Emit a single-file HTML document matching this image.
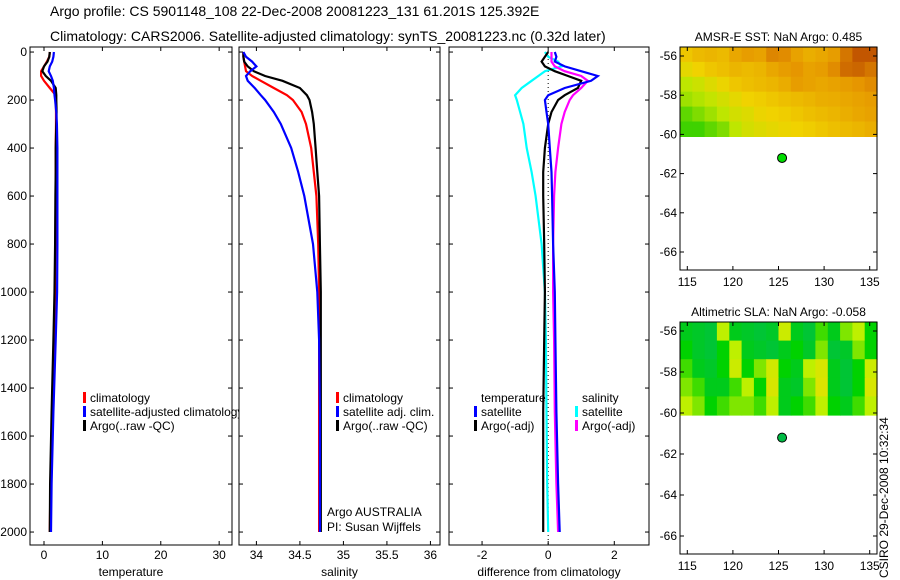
<!DOCTYPE html>
<html><head><meta charset="utf-8"><style>
body{margin:0;background:#fff;}
svg{display:block;font-family:"Liberation Sans",sans-serif;}
</style></head><body>
<svg id="fig" width="900" height="580" xmlns="http://www.w3.org/2000/svg">
<text x="50" y="16" font-size="14">Argo profile: CS 5901148_108 22-Dec-2008 20081223_131 61.201S 125.392E</text>
<text x="50" y="41" font-size="14">Climatology: CARS2006. Satellite-adjusted climatology: synTS_20081223.nc (0.32d later)</text>
<g id="g"></g>
<text transform="translate(888,578) rotate(-90)" font-size="12">CSIRO 29-Dec-2008 10:32:34</text>
</svg>
<script>
// ---- data ----
const depthLevels=[0,20,40,60,80,100,120,150,180,200,250,300,400,500,600,800,1000,1200,1500,1800,2000];
const tempClim=[1.0,0.9,0.5,0.0,-0.5,-0.5,0.0,1.0,2.0,2.0,2.05,2.05,2.0,2.0,2.0,1.95,1.9,1.7,1.4,1.1,1.0];
const tempSat=[1.7,1.6,1.4,1.0,0.8,1.2,1.5,1.7,1.8,1.9,2.1,2.2,2.3,2.3,2.3,2.3,2.25,2.0,1.6,1.3,1.2];
const tempArgo=[1.0,0.9,0.6,0.0,-0.3,0.3,1.2,2.0,2.1,2.1,2.15,2.1,2.0,2.0,1.95,1.9,1.8,1.6,1.3,1.05,1.0];
const salClim=[33.85,33.85,33.86,33.87,33.88,33.95,34.05,34.2,34.35,34.42,34.52,34.57,34.63,34.66,34.69,34.71,34.72,34.72,34.72,34.72,34.72];
const salSat=[33.85,33.88,33.95,34.0,33.93,33.88,33.9,33.98,34.05,34.1,34.2,34.28,34.4,34.48,34.55,34.65,34.7,34.72,34.73,34.73,34.73];
const salArgo=[33.85,33.85,33.86,33.9,33.97,34.1,34.3,34.5,34.58,34.61,34.64,34.66,34.68,34.7,34.72,34.73,34.74,34.74,34.74,34.74,34.74];
const dTempSat=[0.2,0.25,0.2,0.5,1.0,1.5,1.3,0.5,0.0,-0.1,-0.05,0.0,0.05,0.1,0.12,0.15,0.2,0.22,0.25,0.3,0.35];
const dTempArgo=[0.0,-0.1,-0.2,-0.1,0.2,0.6,1.0,0.9,0.5,0.3,0.1,0.0,-0.1,-0.15,-0.15,-0.12,-0.1,-0.12,-0.15,-0.15,-0.15];
const dSalSat=[-0.1,0.0,0.3,0.4,-0.1,-0.3,-0.5,-0.8,-1.0,-0.95,-0.85,-0.75,-0.65,-0.5,-0.38,-0.2,-0.1,-0.07,-0.05,-0.03,0.0];
const dSalArgo=[0.1,0.1,0.1,0.2,0.5,1.0,1.2,1.0,0.75,0.65,0.5,0.4,0.3,0.22,0.18,0.15,0.15,0.18,0.2,0.25,0.3];
const depthTicks=[0,200,400,600,800,1000,1200,1400,1600,1800,2000];
const tempTicks=[0,10,20,30];
const salTicks=[34,34.5,35,35.5,36];
const diffTicks=[-2,0,2];
const lonTicks=[115,120,125,130,135];
const latTicks=[-56,-58,-60,-62,-64,-66];
const sstGrid=[
[.55,.6,.62,.6,.68,.72,.7,.8,.78,.7,.65,.68,.72,.85,.95,.95],
[.45,.5,.55,.58,.62,.6,.62,.68,.72,.75,.7,.72,.78,.88,.9,.85],
[.3,.35,.42,.48,.55,.58,.6,.62,.66,.72,.7,.68,.7,.72,.75,.78],
[.25,.28,.32,.38,.45,.5,.52,.55,.58,.6,.62,.65,.66,.68,.7,.72],
[.15,.2,.25,.3,.38,.42,.48,.5,.52,.55,.58,.6,.62,.65,.68,.7],
[.1,.1,.15,.2,.3,.38,.42,.45,.48,.5,.52,.55,.58,.6,.62,.65]];
const slaGrid=[
[.2,.15,.1,.6,.2,.15,.1,.15,.7,.2,.1,.4,.2,.5,.6,.3],
[.3,.15,.1,.3,.6,.2,.15,.1,.2,.3,.15,.5,.1,.15,.5,.3],
[.4,.2,.15,.3,.7,.3,.5,.75,.3,.2,.6,.8,.2,.1,.3,.7],
[.5,.4,.2,.2,.4,.6,.3,.8,.2,.15,.5,.85,.2,.1,.3,.8],
[.6,.5,.3,.4,.5,.5,.4,.6,.2,.3,.4,.6,.3,.2,.4,.6]];
const argoLon=125.392, argoLat=-61.201;

const NS='http://www.w3.org/2000/svg';
const G=document.getElementById('g');
function mk(t,a,p){const e=document.createElementNS(NS,t);for(const k in a)e.setAttribute(k,a[k]);(p||G).appendChild(e);return e;}
function txt(x,y,s,anchor,size,p){const e=mk('text',{x:x,y:y,'font-size':size||12,'text-anchor':anchor||'start'},p);e.textContent=s;return e;}

const PT=47,PB=545,D0=-21,D1=2054;
const yD=d=>PT+(d-D0)/(D1-D0)*(PB-PT);

function profilePanel(name,x0,x1,v0,v1,ticks,label,showY){
  const g=mk('g',{});
  
  
  const xs=v=>x0+(v-v0)/(v1-v0)*(x1-x0);
  mk('rect',{x:x0,y:PT,width:x1-x0,height:PB-PT,fill:'#fff',stroke:'#000'},g);
  depthTicks.forEach(d=>{const y=yD(d);
    mk('line',{x1:x0,x2:x0+4,y1:y,y2:y,stroke:'#000'},g);
    mk('line',{x1:x1-4,x2:x1,y1:y,y2:y,stroke:'#000'},g);
    if(showY){const t=txt(x0-3,y+4,String(d),'end',12,g);}
  });
  ticks.forEach(v=>{const x=xs(v);
    mk('line',{x1:x,x2:x,y1:PB,y2:PB-4,stroke:'#000'},g);
    mk('line',{x1:x,x2:x,y1:PT,y2:PT+4,stroke:'#000'},g);
    const t=txt(x,559,String(v),'middle',12,g);
    
    
  });
  const xl=txt((x0+x1)/2,576,label,'middle',12,g);
  
  
  return {g,xs};
}
function drawLine(p,vals,color,name){
  const pts=vals.map((v,i)=>p.xs(v).toFixed(1)+','+yD(depthLevels[i]).toFixed(1)).join(' ');
  const l=mk('polyline',{points:pts,fill:'none',stroke:color,'stroke-width':2.2},p.g);
  
  
}
function legend(p,x,y,items){
  items.forEach((it,i)=>{
    const yy=y+i*14;
    if(it[1]) mk('rect',{x:x,y:yy-10,width:3,height:11,fill:it[1]},p.g);
    const t=txt(x+7,yy,it[0],'start',12,p.g);
    
    
  });
}

const p1=profilePanel('temperature-panel',30,232,-2.4,32.2,tempTicks,'temperature',true);
drawLine(p1,tempClim,'#f00','temp-climatology-line');
drawLine(p1,tempArgo,'#000','temp-argo-line');
drawLine(p1,tempSat,'#00f','temp-satellite-line');
legend(p1,83,402,[['climatology','#f00'],['satellite-adjusted climatology','#00f'],['Argo(..raw -QC)','#000']]);

const p2=profilePanel('salinity-panel',239,440,33.8,36.11,salTicks,'salinity',false);
drawLine(p2,salClim,'#f00','sal-climatology-line');
drawLine(p2,salArgo,'#000','sal-argo-line');
drawLine(p2,salSat,'#00f','sal-satellite-line');
legend(p2,336,402,[['climatology','#f00'],['satellite adj. clim.','#00f'],['Argo(..raw -QC)','#000']]);
txt(327,516,'Argo AUSTRALIA','start',12,p2.g);
txt(327,531,'PI: Susan Wijffels','start',12,p2.g);

const p3=profilePanel('difference-panel',449,649,-3.0,3.05,diffTicks,'difference from climatology',false);
mk('line',{x1:p3.xs(0),x2:p3.xs(0),y1:PT,y2:PB,stroke:'#000','stroke-dasharray':'1,3'},p3.g);
drawLine(p3,dSalSat,'#0ff','dsal-satellite-line');
drawLine(p3,dSalArgo,'#f0f','dsal-argo-line');
drawLine(p3,dTempArgo,'#000','dtemp-argo-line');
drawLine(p3,dTempSat,'#00f','dtemp-satellite-line');
legend(p3,474,402,[['temperature',null],['satellite','#00f'],['Argo(-adj)','#000']]);
legend(p3,575,402,[['salinity',null],['satellite','#0ff'],['Argo(-adj)','#f0f']]);

function sstColor(v){const st=[[0,[0,200,0]],[.3,[190,230,0]],[.5,[240,210,0]],[.75,[230,150,0]],[1,[185,70,0]]];
  for(let i=1;i<st.length;i++)if(v<=st[i][0]){const a=st[i-1],b=st[i],t=(v-a[0])/(b[0]-a[0]);return 'rgb('+a[1].map((c,k)=>Math.round(c+(b[1][k]-c)*t)).join(',')+')';}
  return 'rgb(185,70,0)';}
function slaColor(v){const st=[[0,[0,190,80]],[.3,[0,210,0]],[.6,[190,240,0]],[1,[240,220,0]]];
  for(let i=1;i<st.length;i++)if(v<=st[i][0]){const a=st[i-1],b=st[i],t=(v-a[0])/(b[0]-a[0]);return 'rgb('+a[1].map((c,k)=>Math.round(c+(b[1][k]-c)*t)).join(',')+')';}
  return 'rgb(240,220,0)';}

function mapPanel(name,top,bottom,title,grid,cfn,dotColor){
  const x0=680,x1=877,L0=114.2,L1=135.8;
  const yLat0=top+9, yLat1=bottom-18;
  const xs=v=>x0+(v-L0)/(L1-L0)*(x1-x0);
  const ys=v=>yLat0+(-56-v)/10*(yLat1-yLat0);
  const g=mk('g',{});
  
  
  const rows=grid.length, cols=grid[0].length;
  const hy0=top, hy1=ys(-60.1);
  grid.forEach((row,r)=>row.forEach((v,c)=>{
    const cell=mk('rect',{x:(x0+c*(x1-x0)/cols).toFixed(1),y:(hy0+r*(hy1-hy0)/rows).toFixed(1),width:((x1-x0)/cols+0.6).toFixed(1),height:((hy1-hy0)/rows+0.6).toFixed(1),fill:cfn(v)},g);
    
    
  }));
  mk('rect',{x:x0,y:top,width:x1-x0,height:bottom-top,fill:'none',stroke:'#000'},g);
  latTicks.forEach(v=>{const y=ys(v);
    mk('line',{x1:x0,x2:x0+4,y1:y,y2:y,stroke:'#000'},g);
    mk('line',{x1:x1-4,x2:x1,y1:y,y2:y,stroke:'#000'},g);
    const t=txt(x0-3,y+4,String(v),'end',12,g);
    
    
  });
  lonTicks.forEach(v=>{const x=xs(v);
    mk('line',{x1:x,x2:x,y1:bottom,y2:bottom-4,stroke:'#000'},g);
    mk('line',{x1:x,x2:x,y1:top,y2:top+4,stroke:'#000'},g);
    const t=txt(x,bottom+16,String(v),'middle',12,g);
    
    
  });
  const tt=txt((x0+x1)/2,top-6,title,'middle',12,g);
  
  
  const dot=mk('circle',{cx:xs(argoLon),cy:ys(argoLat),r:4.5,fill:dotColor,stroke:'#000'},g);
  
  
}
mapPanel('sst-map',47,270,'AMSR-E SST: NaN Argo: 0.485',sstGrid,sstColor,'#0d0');
mapPanel('sla-map',322,554,'Altimetric SLA: NaN Argo: -0.058',slaGrid,slaColor,'#0b4');
</script>
</body></html>
